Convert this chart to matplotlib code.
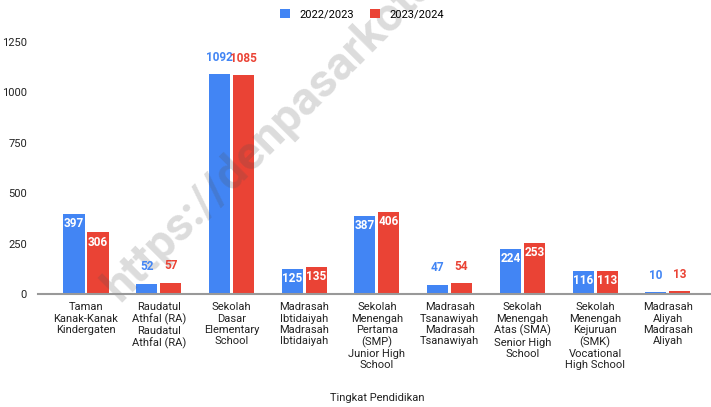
import numpy as np
import matplotlib
matplotlib.use("Agg")
import matplotlib.pyplot as plt

plt.rcParams['font.family'] = ['Roboto', 'DejaVu Sans']

categories = [
    "Taman\nKanak-Kanak\nKindergaten",
    "Raudatul\nAthfal (RA)\nRaudatul\nAthfal (RA)",
    "Sekolah\nDasar\nElementary\nSchool",
    "Madrasah\nIbtidaiyah\nMadrasah\nIbtidaiyah",
    "Sekolah\nMenengah\nPertama\n(SMP)\nJunior High\nSchool",
    "Madrasah\nTsanawiyah\nMadrasah\nTsanawiyah",
    "Sekolah\nMenengah\nAtas (SMA)\nSenior High\nSchool",
    "Sekolah\nMenengah\nKejuruan\n(SMK)\nVocational\nHigh School",
    "Madrasah\nAliyah\nMadrasah\nAliyah",
]
y2022 = [397, 52, 1092, 125, 387, 47, 224, 116, 10]
y2023 = [306, 57, 1085, 135, 406, 54, 253, 113, 13]
series_names = ["2022/2023", "2023/2024"]
yticks = [0, 250, 500, 750, 1000, 1250]

blue = "#4285F4"
red = "#EA4335"

fig = plt.figure(figsize=(7.11, 4.07), dpi=100)
ax = fig.add_axes([38 / 711, 113 / 407, 672 / 711, 252 / 407])

x = np.arange(len(categories))
w = 0.29
off = 0.165
b1 = ax.bar(x - off, y2022, w, color=blue, zorder=3, label=series_names[0])
b2 = ax.bar(x + off, y2023, w, color=red, zorder=3, label=series_names[1])

for bars, vals, col in [(b1, y2022, blue), (b2, y2023, red)]:
    for rect, v in zip(bars, vals):
        cx = rect.get_x() + rect.get_width() / 2
        if 100 <= v < 1000:
            ax.annotate(str(v), (cx, v), xytext=(0, -7), textcoords="offset points",
                        ha="center", va="center", color="white", fontsize=8.5,
                        fontweight="bold", zorder=5)
        else:
            ax.annotate(str(v), (cx, v), xytext=(0, 12), textcoords="offset points",
                        ha="center", va="center", color=col, fontsize=8.5,
                        fontweight="bold", zorder=5)

ax.set_xlim(-0.66, 8.58)
ax.set_ylim(0, 1250)
ax.set_yticks(yticks)
ax.set_yticklabels([str(t) for t in yticks], fontsize=8, color="#222222")
ax.set_xticks(x)
ax.set_xticklabels(categories, fontsize=8, color="#222222", linespacing=1.15, va="top")
ax.tick_params(axis="both", length=0)
ax.tick_params(axis="x", pad=6)
ax.tick_params(axis="y", pad=8)
for s in ["top", "right", "left"]:
    ax.spines[s].set_visible(False)
ax.spines["bottom"].set_color("#999999")
ax.spines["bottom"].set_linewidth(1.5)
ax.spines["bottom"].set_zorder(6)

fig.text(377 / 711, 1 - 398 / 407, "Tingkat Pendidikan", ha="center", va="center",
         fontsize=8, color="#222222")

leg = fig.legend(handles=[b1, b2], labels=series_names, loc="center",
                 bbox_to_anchor=(362 / 711, 1 - 14 / 407), ncol=2, frameon=False,
                 fontsize=8, handlelength=0.9, handleheight=0.9, columnspacing=1.5,
                 handletextpad=0.8)

# semi-transparent watermark over the bars (runs off the top edge, as in the original)
ax.text(120 / 711, 1 - 303 / 407, "https://denpasarkota", transform=fig.transFigure,
        rotation=45, rotation_mode="anchor", ha="left", va="baseline", fontsize=34,
        fontweight="bold", color="#505050", alpha=0.2, zorder=4, clip_on=False)

fig.savefig("out.png", dpi=100)
